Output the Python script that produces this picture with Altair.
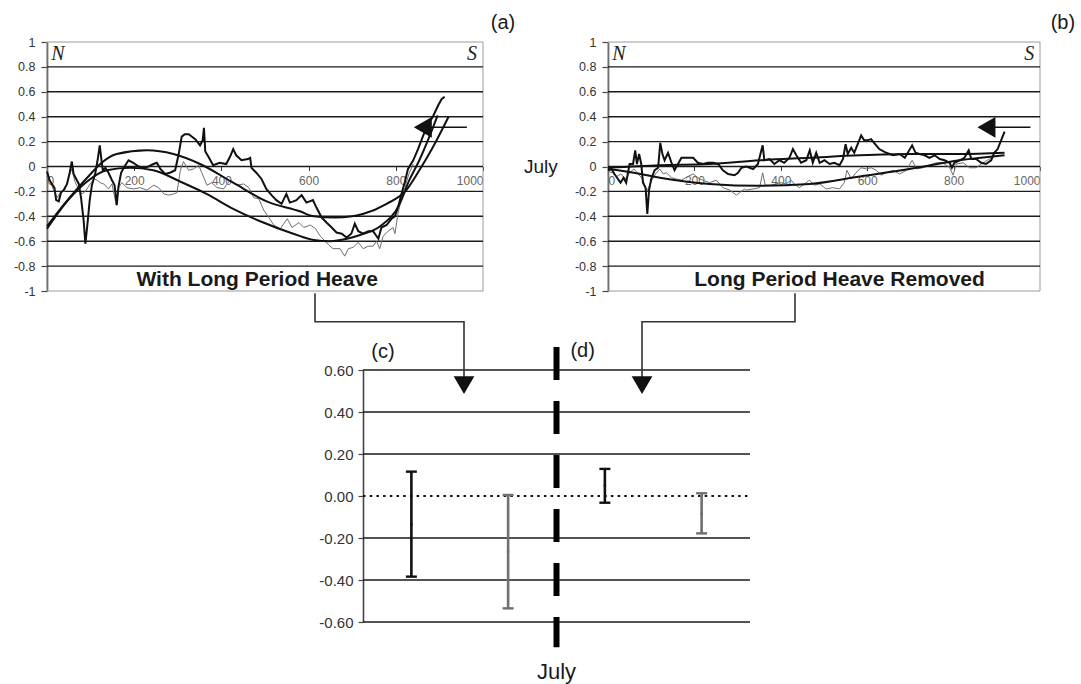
import altair as alt
import pandas as pd

# ---------------- Panel (a): With Long Period Heave ----------------
a_black_x = [0, 6, 11, 17, 21, 27, 32, 38, 46, 52, 57, 61, 67, 73, 78, 84, 88, 92, 98, 103, 111, 116, 121, 125, 128,
             134, 141, 149, 155, 160, 164, 170, 176, 187, 198, 210, 221, 233, 244, 252, 260, 271, 282, 294, 302, 309,
             316, 325, 340, 351, 357, 360, 363, 370, 381, 396, 411, 420, 427, 434, 446, 461, 466, 469, 480, 492, 503,
             515, 526, 538, 549, 557, 565, 572, 584, 595, 610, 618, 630, 641, 653, 664, 676, 687, 698, 706, 714, 725,
             737, 748, 760, 767, 779, 790, 798, 805, 813, 821, 828, 840, 851, 863, 874, 885, 897, 905, 912]
a_black_y = [-0.04, -0.11, -0.14, -0.17, -0.27, -0.28, -0.21, -0.19, -0.14, -0.05, 0.04, -0.06, -0.10, -0.14, -0.25,
             -0.43, -0.62, -0.49, -0.27, -0.15, -0.05, 0.05, 0.17, 0.05, -0.03, -0.01, -0.05, -0.11, -0.15, -0.31,
             -0.16, -0.05, -0.01, 0.05, 0.03, 0.0, -0.01, 0.0, 0.02, 0.03, -0.02, -0.06, -0.05, -0.03, 0.10, 0.24,
             0.26, 0.26, 0.22, 0.17, 0.21, 0.31, 0.12, 0.08, 0.01, 0.03, 0.02, 0.08, 0.14, 0.09, 0.05, 0.06, 0.07,
             -0.01, -0.05, -0.10, -0.18, -0.23, -0.27, -0.30, -0.22, -0.29, -0.28, -0.27, -0.23, -0.29, -0.27, -0.33,
             -0.41, -0.45, -0.49, -0.53, -0.54, -0.57, -0.54, -0.46, -0.52, -0.54, -0.52, -0.52, -0.58, -0.49, -0.47,
             -0.42, -0.40, -0.33, -0.22, -0.12, -0.02, 0.05, 0.14, 0.25, 0.34, 0.40, 0.49, 0.54, 0.56]

a_gray_x = [0, 8, 16, 24, 32, 40, 50, 57, 64, 72, 80, 88, 99, 108, 115, 122, 130, 141, 149, 159, 164, 172, 183, 199,
            214, 229, 245, 256, 268, 279, 291, 298, 306, 313, 325, 336, 348, 355, 367, 378, 390, 405, 420, 436, 451,
            463, 474, 486, 497, 509, 520, 535, 551, 562, 578, 589, 604, 616, 627, 638, 646, 656, 672, 683, 691, 702,
            714, 725, 737, 748, 756, 763, 771, 782, 794, 798, 805, 813, 821, 830, 840]
a_gray_y = [-0.08, -0.12, -0.20, -0.25, -0.20, -0.20, -0.08, -0.02, -0.12, -0.18, -0.22, -0.20, -0.14, -0.10, -0.11,
            -0.13, -0.14, -0.18, -0.14, -0.31, -0.17, -0.13, -0.17, -0.18, -0.17, -0.19, -0.15, -0.17, -0.22, -0.23,
            -0.22, -0.21, -0.03, 0.04, -0.03, -0.02, 0.01, -0.05, -0.15, -0.13, -0.17, -0.18, -0.11, -0.15, -0.14,
            -0.17, -0.25, -0.26, -0.35, -0.41, -0.47, -0.50, -0.42, -0.49, -0.45, -0.49, -0.47, -0.50, -0.56, -0.60,
            -0.63, -0.66, -0.66, -0.72, -0.66, -0.65, -0.61, -0.66, -0.64, -0.64, -0.60, -0.66, -0.56, -0.52, -0.49,
            -0.54, -0.38, -0.25, -0.17, -0.06, 0.02]

a_fit1_x = [0, 40, 69, 100, 122, 160, 229, 290, 351, 427, 504, 580, 612, 660, 700, 726, 779, 824, 854, 885, 921]
a_fit1_y = [-0.48, -0.30, -0.18, -0.06, 0.02, 0.10, 0.13, 0.10, 0.02, -0.13, -0.28, -0.36, -0.40, -0.41, -0.40,
            -0.38, -0.30, -0.19, -0.03, 0.155, 0.40]

a_fit2_x = [0, 46, 92, 137, 191, 244, 305, 366, 427, 489, 565, 612, 650, 688, 718, 764, 809, 831, 854, 877, 896]
a_fit2_y = [-0.50, -0.28, -0.12, -0.03, -0.01, -0.03, -0.12, -0.22, -0.34, -0.44, -0.54, -0.59, -0.60, -0.58,
            -0.55, -0.48, -0.30, -0.11, 0.05, 0.24, 0.41]

# ---------------- Panel (b): Long Period Heave Removed ----------------
b_black_x = [0, 8, 15, 23, 29, 36, 42, 50, 58, 63, 67, 72, 77, 81, 87, 91, 95, 100, 108, 116, 121, 126, 131, 139, 147,
             154, 162, 170, 181, 197, 208, 220, 231, 243, 255, 266, 278, 293, 301, 309, 320, 336, 347, 358, 362, 374,
             385, 397, 408, 420, 428, 436, 447, 459, 467, 474, 482, 490, 501, 513, 524, 536, 544, 550, 555, 563, 570,
             578, 586, 593, 601, 609, 616, 628, 644, 660, 675, 687, 694, 704, 712, 721, 733, 744, 756, 768, 779, 791,
             796, 802, 814, 825, 835, 841, 852, 864, 875, 887, 894, 902, 910, 918]
b_black_y = [-0.03, -0.02, -0.06, -0.10, -0.13, -0.09, -0.13, 0.02, 0.02, 0.13, 0.02, 0.10, 0.02, -0.13, -0.17, -0.38,
             -0.19, -0.10, -0.03, -0.01, 0.19, 0.10, 0.05, 0.11, 0.03, -0.03, 0.02, 0.07, 0.07, 0.07, 0.03, 0.02, 0.03,
             0.03, 0.02, -0.03, -0.06, -0.07, -0.05, -0.01, 0.0, -0.02, 0.02, 0.17, 0.05, 0.06, 0.02, 0.05, 0.03, 0.07,
             0.14, 0.09, 0.03, 0.05, 0.13, 0.03, 0.11, 0.03, 0.05, 0.02, 0.03, 0.01, 0.06, 0.18, 0.10, 0.15, 0.11,
             0.18, 0.25, 0.21, 0.21, 0.22, 0.19, 0.14, 0.11, 0.09, 0.10, 0.07, 0.11, 0.17, 0.11, 0.10, 0.09, 0.07,
             0.09, 0.06, 0.05, 0.03, -0.01, 0.03, 0.05, 0.07, 0.13, 0.06, 0.06, 0.03, 0.02, 0.05, 0.11, 0.14, 0.21,
             0.28]

b_gray_x = [0, 10, 20, 30, 40, 50, 60, 70, 80, 90, 100, 110, 120, 128, 135, 147, 158, 170, 185, 197, 212, 235, 251,
            266, 282, 297, 305, 316, 320, 336, 351, 358, 364, 377, 389, 400, 412, 424, 431, 443, 455, 466, 478, 490,
            505, 520, 536, 547, 553, 563, 574, 586, 598, 609, 621, 632, 644, 660, 675, 691, 704, 714, 729, 744, 760,
            775, 791, 799, 806, 822, 837, 852, 868, 883, 891]
b_gray_y = [-0.04, -0.05, -0.08, -0.06, -0.10, -0.05, -0.02, -0.06, -0.10, -0.20, -0.12, -0.06, -0.02, -0.06, -0.05,
            -0.09, -0.10, -0.11, -0.08, -0.06, -0.10, -0.13, -0.11, -0.17, -0.19, -0.23, -0.21, -0.18, -0.19, -0.18,
            -0.17, -0.05, -0.15, -0.15, -0.14, -0.13, -0.14, -0.11, -0.14, -0.17, -0.14, -0.11, -0.15, -0.14, -0.18,
            -0.17, -0.18, -0.13, -0.03, -0.10, -0.05, -0.01, -0.02, -0.01, -0.03, -0.07, -0.05, -0.03, -0.06, -0.03,
            0.05, -0.02, -0.01, 0.01, 0.03, 0.03, -0.01, -0.07, 0.02, 0.03, -0.01, -0.01, 0.03, 0.06, 0.07]

b_fit1_x = [0, 120, 235, 351, 467, 583, 700, 814, 918]
b_fit1_y = [-0.01, 0.01, 0.02, 0.05, 0.07, 0.09, 0.10, 0.10, 0.11]

b_fit2_x = [0, 60, 120, 235, 351, 467, 583, 698, 814, 918]
b_fit2_y = [-0.02, -0.05, -0.09, -0.14, -0.155, -0.14, -0.08, -0.02, 0.05, 0.09]

# ---------------- Panels (c)/(d): error bars ----------------
bar_pos = [0.5, 1.5, 2.5, 3.5]
bar_hi = [0.116, 0.005, 0.129, 0.013]
bar_lo = [-0.384, -0.535, -0.032, -0.178]
bar_mid = [-0.135, -0.265, 0.05, -0.085]
bar_series = ["first", "second", "first", "second"]

grid_ab = [-0.8, -0.6, -0.4, -0.2, 0, 0.2, 0.4, 0.6, 0.8]
ticks_ab = [-1, -0.8, -0.6, -0.4, -0.2, 0, 0.2, 0.4, 0.6, 0.8, 1]
ticks_x = [0, 200, 400, 600, 800, 1000]
grid_c = [-0.6, -0.4, -0.2, 0.2, 0.4, 0.6]
ticks_c = [-0.6, -0.4, -0.2, 0, 0.2, 0.4, 0.6]

W, H = 1081, 684
FONT = "Liberation Sans"


def sxa():
    return alt.Scale(domain=[0, 1000], range=[47, 483], nice=False, zero=False)


def sxb():
    return alt.Scale(domain=[0, 1000], range=[608, 1040], nice=False, zero=False)


def syab():
    return alt.Scale(domain=[-1, 1], range=[291, 42], nice=False, zero=False)


def sxc():
    return alt.Scale(domain=[0, 4], range=[363, 750], nice=False, zero=False)


def syc():
    return alt.Scale(domain=[-0.6, 0.6], range=[622, 370], nice=False, zero=False)


def line(xs, ys, sx, sy, color, width, interp="linear", dash=None):
    df = pd.DataFrame({"x": xs, "y": ys, "o": list(range(len(xs)))})
    kw = dict(color=color, strokeWidth=width, interpolate=interp)
    if dash:
        kw["strokeDash"] = dash
    return alt.Chart(df).mark_line(**kw).encode(
        x=alt.X("x:Q", scale=sx, axis=None),
        y=alt.Y("y:Q", scale=sy, axis=None),
        order="o:Q",
    )


def texts(rows, sx, sy, **mk):
    df = pd.DataFrame(rows, columns=["x", "y", "t"])
    return alt.Chart(df).mark_text(**mk).encode(
        x=alt.X("x:Q", scale=sx, axis=None),
        y=alt.Y("y:Q", scale=sy, axis=None),
        text="t:N",
    )


label_ab = "datum.value == 0 ? '0' : (datum.value < 0 ? '-' : '') + format(abs(datum.value), '~g')"
label_c = "(datum.value < -0.001 ? '-' : '') + format(abs(datum.value), '.2f')"


def top_panel(sx, x_px, black_x, black_y, gray_x, gray_y, f1x, f1y, f2x, f2y, title, letter,
              arrow_tail, arrow_center, letter_x, title_x):
    layers = []
    border = alt.Chart(pd.DataFrame({"x0": [0], "x1": [1000], "y0": [-1], "y1": [1]})).mark_rect(
        fillOpacity=0, stroke="#9a9a9a", strokeWidth=1).encode(
        x=alt.X("x0:Q", scale=sx(), axis=None), x2="x1:Q",
        y=alt.Y("y0:Q", scale=syab(), axis=None), y2="y1:Q")
    layers.append(border)
    gdf = pd.DataFrame({"v": grid_ab, "x0": [0] * len(grid_ab), "x1": [1000] * len(grid_ab)})
    grid = alt.Chart(gdf).mark_rule(color="#1a1a1a", strokeWidth=1.4).encode(
        x=alt.X("x0:Q", scale=sx(), axis=alt.Axis(
            orient="bottom", offset=-(H - 166.5), values=ticks_x, format="d", title=None, grid=False,
            domain=False, tickSize=4, tickColor="#333", labelPadding=5, labelFont=FONT, labelFontSize=12,
            labelColor="#666")),
        x2="x1:Q",
        y=alt.Y("v:Q", scale=syab(), axis=alt.Axis(
            orient="left", offset=-x_px, values=ticks_ab, labelExpr=label_ab, title=None, grid=False,
            domainColor="#444", domainWidth=1.6, tickSize=6, tickColor="#444", tickWidth=1.2,
            labelPadding=6, labelFont=FONT, labelFontSize=12.5, labelColor="#333")),
    )
    layers.append(grid)
    layers.append(line(gray_x, gray_y, sx(), syab(), "#6f6f6f", 1.0))
    layers.append(line(black_x, black_y, sx(), syab(), "#111111", 2.0))
    layers.append(line(f1x, f1y, sx(), syab(), "#111111", 2.0, "monotone"))
    layers.append(line(f2x, f2y, sx(), syab(), "#111111", 2.0, "monotone"))
    # arrow pointing left
    layers.append(line([arrow_center, arrow_tail], [0.315, 0.315], sx(), syab(), "#111111", 1.5))
    head = alt.Chart(pd.DataFrame({"x": [arrow_center], "y": [0.315]})).mark_point(
        shape="triangle-left", filled=True, size=430, color="#111111", opacity=1).encode(
        x=alt.X("x:Q", scale=sx(), axis=None), y=alt.Y("y:Q", scale=syab(), axis=None))
    layers.append(head)
    layers.append(texts([[25, 0.905, "N"]], sx(), syab(), font="Liberation Serif", fontStyle="italic",
                        fontSize=20, color="#222", align="center", baseline="middle"))
    layers.append(texts([[975, 0.905, "S"]], sx(), syab(), font="Liberation Serif", fontStyle="italic",
                        fontSize=20, color="#222", align="center", baseline="middle"))
    layers.append(texts([[title_x, -0.915, title]], sx(), syab(), font=FONT, fontWeight="bold",
                        fontSize=21, color="#1a1a1a", align="center", baseline="middle"))
    layers.append(texts([[letter_x, 1.15, letter]], sx(), syab(), font=FONT, fontSize=20, color="#1a1a1a",
                        align="center", baseline="middle"))
    return layers


layers = []
layers += top_panel(sxa, 47, a_black_x, a_black_y, a_gray_x, a_gray_y, a_fit1_x, a_fit1_y, a_fit2_x, a_fit2_y,
                    "With Long Period Heave", "(a)", 963, 862, 1046, 482)
layers.append(texts([[1094, 0.0, "July"]], sxa(), syab(), font=FONT, fontSize=19, color="#1a1a1a",
                    align="left", baseline="middle"))
layers += top_panel(sxb, 608, b_black_x, b_black_y, b_gray_x, b_gray_y, b_fit1_x, b_fit1_y, b_fit2_x, b_fit2_y,
                    "Long Period Heave Removed", "(b)", 978, 876, 1053, 536)

# ---------------- bottom panel ----------------
cdf = pd.DataFrame({"v": grid_c, "x0": [0] * len(grid_c), "x1": [4] * len(grid_c)})
layers.append(alt.Chart(cdf).mark_rule(color="#1a1a1a", strokeWidth=1.4).encode(
    x=alt.X("x0:Q", scale=sxc(), axis=None), x2="x1:Q",
    y=alt.Y("v:Q", scale=syc(), axis=alt.Axis(
        orient="left", offset=-363, values=ticks_c, labelExpr=label_c, title=None, grid=False,
        domainColor="#444", domainWidth=1.6, tickSize=5, tickColor="#444", tickWidth=1.2,
        labelPadding=5, labelFont=FONT, labelFontSize=15, labelColor="#333")),
))
zdf = pd.DataFrame({"v": [0], "x0": [0], "x1": [4]})
layers.append(alt.Chart(zdf).mark_rule(color="#111", strokeWidth=2, strokeDash=[2.5, 4.2]).encode(
    x=alt.X("x0:Q", scale=sxc(), axis=None), x2="x1:Q",
    y=alt.Y("v:Q", scale=syc(), axis=None)))

# July divider
jdf = pd.DataFrame({"x": [2.0], "y0": [0.71], "y1": [-0.72]})
layers.append(alt.Chart(jdf).mark_rule(color="#000", strokeWidth=6, strokeDash=[33, 21]).encode(
    x=alt.X("x:Q", scale=sxc(), axis=None),
    y=alt.Y("y0:Q", scale=syc(), axis=None), y2="y1:Q"))

bdf = pd.DataFrame({"x": bar_pos, "hi": bar_hi, "lo": bar_lo, "mid": bar_mid, "s": bar_series})
cscale = alt.Scale(domain=["first", "second"], range=["#111111", "#707070"])
layers.append(alt.Chart(bdf).mark_rule(strokeWidth=2.6).encode(
    x=alt.X("x:Q", scale=sxc(), axis=None),
    y=alt.Y("lo:Q", scale=syc(), axis=None), y2="hi:Q",
    color=alt.Color("s:N", scale=cscale, legend=None)))
for col in ["hi", "lo"]:
    layers.append(alt.Chart(bdf).mark_tick(orient="horizontal", size=11, thickness=2.4, opacity=1).encode(
        x=alt.X("x:Q", scale=sxc(), axis=None),
        y=alt.Y(f"{col}:Q", scale=syc(), axis=None),
        color=alt.Color("s:N", scale=cscale, legend=None)))
layers.append(alt.Chart(bdf).mark_point(shape="square", filled=True, size=6, opacity=1).encode(
    x=alt.X("x:Q", scale=sxc(), axis=None),
    y=alt.Y("mid:Q", scale=syc(), axis=None),
    color=alt.Color("s:N", scale=cscale, legend=None)))

# connectors from the top panels
layers.append(line([-0.496, -0.496, 1.044, 1.044], [0.965, 0.83, 0.83, 0.56], sxc(), syc(), "#333333", 1.6))
layers.append(line([4.465, 4.465, 2.884, 2.884], [0.965, 0.83, 0.83, 0.56], sxc(), syc(), "#333333", 1.6))
layers.append(alt.Chart(pd.DataFrame({"x": [1.044, 2.884], "y": [0.528, 0.528]})).mark_point(
    shape="triangle-down", filled=True, size=430, color="#111", opacity=1).encode(
    x=alt.X("x:Q", scale=sxc(), axis=None), y=alt.Y("y:Q", scale=syc(), axis=None)))

layers.append(texts([[0.207, 0.686, "(c)"], [2.27, 0.69, "(d)"]], sxc(), syc(), font=FONT, fontSize=20,
                    color="#1a1a1a", align="center", baseline="middle"))
layers.append(texts([[2.0, -0.84, "July"]], sxc(), syc(), font=FONT, fontSize=22, color="#1a1a1a",
                    align="center", baseline="middle"))

chart = alt.layer(*layers).resolve_scale(x="independent", y="independent").properties(
    width=W, height=H, autosize=alt.AutoSizeParams(type="none"), padding=0
).configure_view(stroke=None)

chart.save("out.html", embed_options={"renderer": "svg", "actions": False})
